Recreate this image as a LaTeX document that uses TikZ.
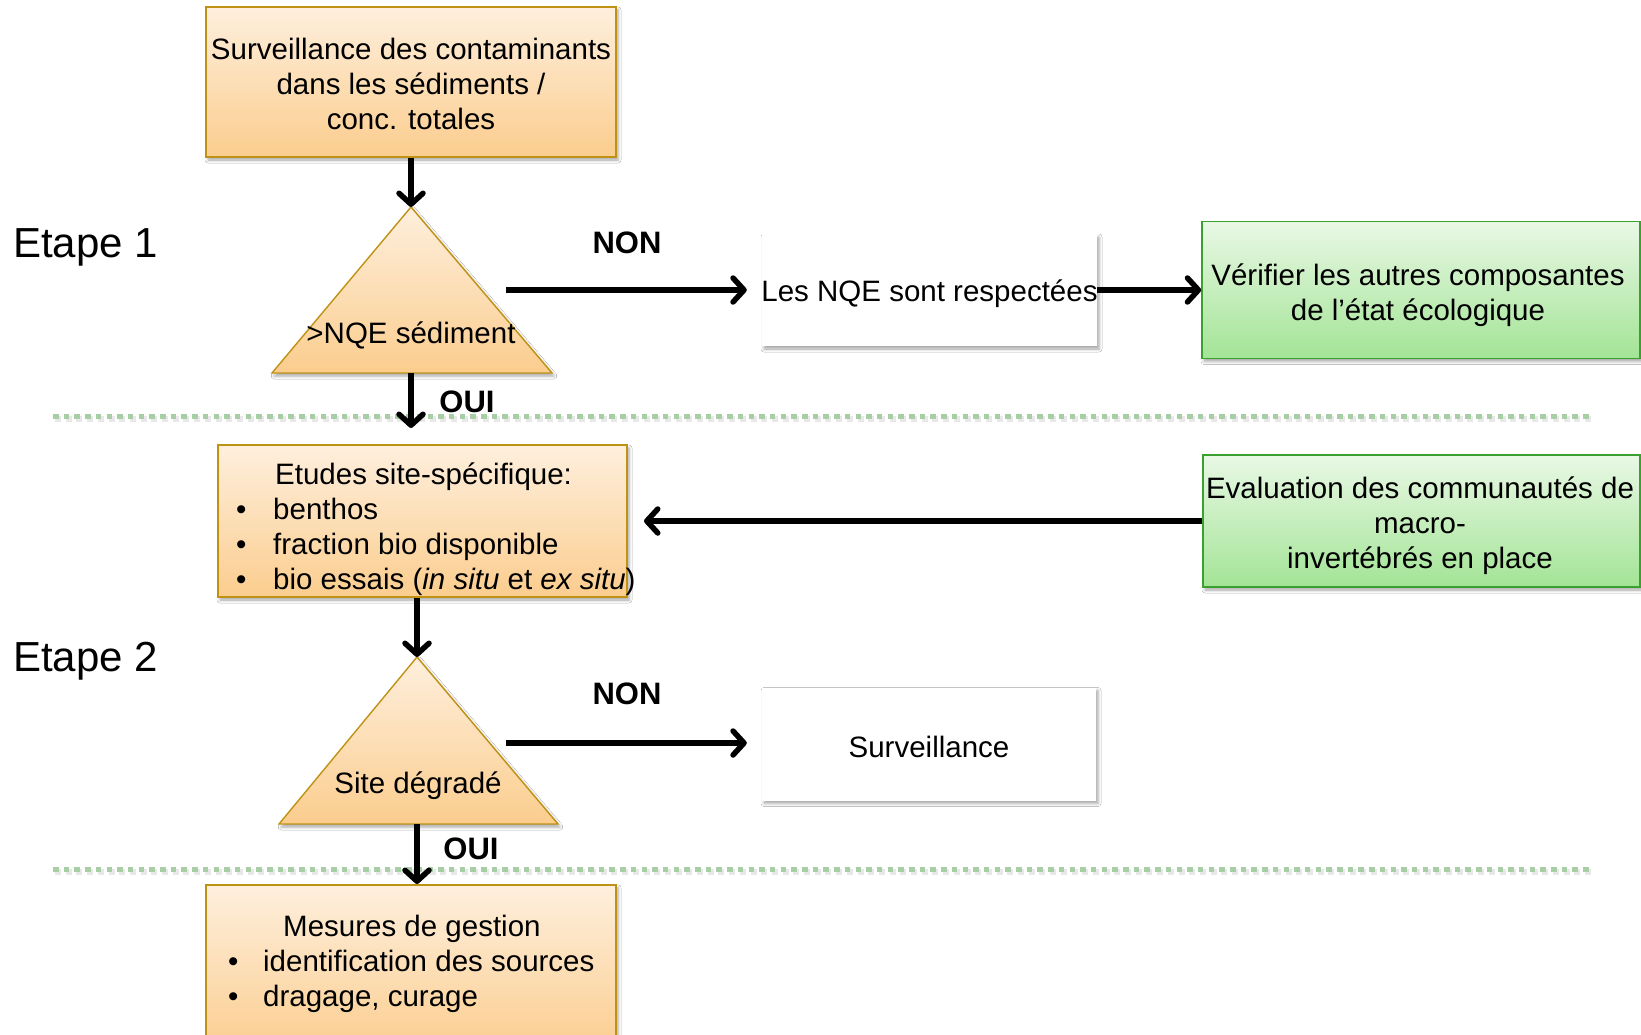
\documentclass[tikz,border=0pt]{standalone}
\usepackage{fontspec}
\setmainfont{Liberation Sans}
\usetikzlibrary{arrows.meta,shadows.blur,calc}
\definecolor{orTop}{RGB}{254,239,221}
\definecolor{orBot}{RGB}{251,205,142}
\definecolor{orEdge}{RGB}{191,146,20}
\definecolor{grTop}{RGB}{233,248,229}
\definecolor{grBot}{RGB}{163,228,150}
\definecolor{grEdge}{RGB}{58,160,48}
\definecolor{dotgreen}{RGB}{168,206,165}
\tikzset{
  txt/.style={font=\fontsize{29.5}{35}\selectfont, align=center, inner sep=0pt},
  bigtxt/.style={font=\fontsize{42}{50}\selectfont, inner sep=0pt},
  lbl/.style={font=\bfseries\fontsize{31}{37}\selectfont, inner sep=0pt},
  shd/.style={blur shadow={shadow xshift=2pt, shadow yshift=-3pt, shadow blur radius=3pt, shadow opacity=35}},
  obox/.style={rectangle, draw=orEdge, line width=1.6pt, top color=orTop, bottom color=orBot, shd, inner sep=0pt},
  gbox/.style={rectangle, draw=grEdge, line width=1.6pt, top color=grTop, bottom color=grBot, shd, inner sep=0pt},
  wbox/.style={rectangle, fill=white, shd, inner sep=0pt},
  tri/.style={draw=orEdge, line width=1.4pt, top color=orTop, bottom color=orBot, shd},
  arr/.style={line width=5.5pt, -{Straight Barb[length=11pt,width=24pt,line cap=round,line join=round]}},
  dotline/.style={dotgreen, line width=5pt, dash pattern=on 5.5pt off 5.2pt},
  dotshadow/.style={black!25, opacity=0.35, line width=6pt, dash pattern=on 6pt off 4.7pt}
}
\begin{document}
\begin{tikzpicture}[x=1pt,y=-1pt]
\useasboundingbox (0,0) rectangle (1641,1035);
\clip (0,0) rectangle (1641,1035);
\fill[white] (0,0) rectangle (1641,1035);

% separators
\draw[dotshadow] (55,419) -- (1595,419);
\draw[dotline] (53,416) -- (1593,416);
\draw[dotshadow] (55,872) -- (1595,872);
\draw[dotline] (53,869) -- (1593,869);

% stage labels
\node[bigtxt, anchor=west] (et1) at (13,247.5) {Etape 1};
\node[bigtxt, anchor=west] (et2) at (13,661.5) {Etape 2};

% top box
\node[obox, minimum width=410pt, minimum height=150pt] (top) at (411,82) {};
\node[txt] (toptxt) at (411,83.5) {Surveillance des contaminants\\dans les sédiments /\\ conc. totales};

% triangle 1
\coordinate (ap1) at (411,207);
\coordinate (b1) at (411,373);
\path[tri] (ap1) -- (272,373) -- (552,373) -- cycle;
\node[txt] (t1txt) at (411,335.5) {>NQE sédiment};

% white box 1 and green box 1
\node[wbox, minimum width=335pt, minimum height=112pt] (w1) at (929.5,290) {};
\node[txt] (w1txt) at (929.5,293.5) {Les NQE sont respectées};
\node[gbox, minimum width=438pt, minimum height=137pt] (g1) at (1421,290) {};
\node[txt] (g1txt) at (1418,295) {Vérifier les autres composantes\\de l’état écologique};

% Etudes box
\node[obox, minimum width=409pt, minimum height=152pt] (etu) at (422.5,521) {};
\node[txt, align=left, anchor=west] (etutxt) at (236,529.5) {\hspace*{39pt}Etudes site-spécifique:\\
\makebox[37pt][l]{•}benthos\\
\makebox[37pt][l]{•}fraction bio disponible\\
\makebox[37pt][l]{•}bio essais (\textit{in situ} et \textit{ex situ})};

% green box 2
\node[gbox, minimum width=437pt, minimum height=132pt] (g2) at (1421.5,521) {};
\node[txt] (g2txt) at (1420,526) {Evaluation des communautés de\\macro-\\invertébrés en place};

% triangle 2
\coordinate (ap2) at (417,657);
\coordinate (b2) at (417,824);
\path[tri] (ap2) -- (279,824) -- (558,824) -- cycle;
\node[txt] (t2txt) at (418,786) {Site dégradé};

% surveillance box
\node[wbox, minimum width=334pt, minimum height=113pt] (surv) at (929,744) {};
\node[txt] (survtxt) at (929,746.5) {Surveillance};

% last box
\node[obox, minimum width=410pt, minimum height=170pt, anchor=north] (mes) at (411,884) {};
\node[txt, align=left, anchor=west] (mestxt) at (228,964) {\hspace*{55pt}Mesures de gestion\\
\makebox[35pt][l]{•}identification des sources\\
\makebox[35pt][l]{•}dragage, curage};

% free arrow ends
\coordinate (n1s) at (506,290);
\coordinate (n2s) at (506,743);
\coordinate (ev) at (644,521);

% connectors
\draw[arr] (top.south) -- (ap1);
\draw[arr] (b1) -- (411,428);
\draw[arr] (n1s) -- ([xshift=-15pt]w1.west);
\draw[arr] (w1.east) -- (g1.west);
\draw[arr] (g2.west) -- (ev);
\draw[arr] (etu.south -| ap2) -- (ap2);
\draw[arr] (n2s) -- ([xshift=-15pt]surv.west |- n2s);
\draw[arr] (b2) -- (mes.north -| b2);

% labels
\node[lbl] (non1) at (627,243) {NON};
\node[lbl] (oui1) at (467,402) {OUI};
\node[lbl] (non2) at (627,694) {NON};
\node[lbl] (oui2) at (471,849) {OUI};
\end{tikzpicture}
\end{document}
